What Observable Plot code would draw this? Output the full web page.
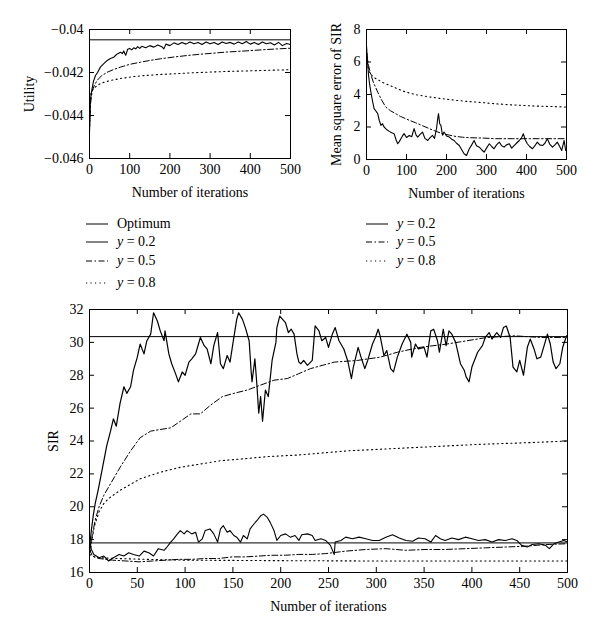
<!DOCTYPE html>
<html><head><meta charset="utf-8">
<script src="https://cdn.jsdelivr.net/npm/d3@7"></script>
<script src="https://cdn.jsdelivr.net/npm/@observablehq/plot@0.6"></script>
<style>
body{margin:0;background:#fff;}
#wrap{position:relative;width:600px;height:632px;background:#fff;}
.leg{position:absolute;display:flex;align-items:center;font-size:14px;height:18px;color:#000;white-space:nowrap;font-family:'Liberation Serif',serif;}
.leg svg{margin-right:9px;}
</style></head><body><div id="wrap"></div>
<script>
// ---------- tick labels ----------
const xTicks100 = [0, 100, 200, 300, 400, 500];
const xTicks50 = [0, 50, 100, 150, 200, 250, 300, 350, 400, 450, 500];
const utilTicks = [-0.046, -0.044, -0.042, -0.040];
const mseTicks = [0, 2, 4, 6, 8];
const sirTicks = [16, 18, 20, 22, 24, 26, 28, 30, 32];

// ---------- Utility panel ----------
const utilOptimum = -0.04048;
const utilIter02 = [0,2,4,6,10,15,20,27,35,44,52,60,68,77,82,85,90,95,100,105,110,115,120,125,130,140,150,160,170,180,185,190,200,210,220,230,240,250,260,270,280,290,300,310,320,330,340,350,360,370,380,390,400,410,420,430,440,450,460,470,480,490,500];
const util02 = [-0.0448,-0.0435,-0.0430,-0.0428,-0.0424,-0.04214,-0.0420,-0.04175,-0.0416,-0.04144,-0.04135,-0.04129,-0.04115,-0.04106,-0.04112,-0.041,-0.0412,-0.04092,-0.04088,-0.04095,-0.04085,-0.0409,-0.0408,-0.04088,-0.04078,-0.04085,-0.04075,-0.04082,-0.04072,-0.0408,-0.0409,-0.04068,-0.04075,-0.04062,-0.0407,-0.0406,-0.04068,-0.04058,-0.04066,-0.0406,-0.0407,-0.04058,-0.04066,-0.0406,-0.0407,-0.04058,-0.04065,-0.0406,-0.04068,-0.04058,-0.04066,-0.04056,-0.04068,-0.0406,-0.0407,-0.04058,-0.04066,-0.04062,-0.04072,-0.0406,-0.04075,-0.04065,-0.0407];
const utilIter05 = [0,2,4,8,12,19,30,44,60,77,100,127,150,177,210,243,275,309,340,376,410,442,470,500];
const util05 = [-0.0446,-0.0436,-0.04315,-0.0428,-0.0426,-0.04237,-0.04215,-0.04199,-0.04186,-0.04175,-0.04162,-0.04152,-0.04144,-0.04136,-0.04128,-0.04121,-0.04115,-0.0411,-0.04105,-0.04101,-0.04097,-0.04093,-0.0409,-0.04087];
const utilIter08 = [0,2,4,8,12,19,30,52,80,110,140,177,220,260,300,342,385,425,460,500];
const util08 = [-0.0447,-0.0436,-0.04292,-0.0428,-0.04272,-0.0426,-0.04249,-0.04237,-0.04227,-0.04219,-0.04214,-0.04209,-0.04205,-0.04201,-0.04198,-0.04195,-0.04193,-0.04191,-0.04189,-0.04187];

// ---------- MSE panel ----------
const mseIter02 = [0,2,5,8,11,15,19,23,28,32,36,40,44,50,57,63,69,74,78,82,86,90,94,100,107,113,119,124,128,134,140,146,153,159,165,170,175,178,180,183,186,190,194,200,207,213,219,225,232,238,244,250,257,263,269,275,282,288,294,300,307,313,319,325,332,338,344,350,357,363,369,375,382,387,392,397,402,408,415,421,427,433,440,446,452,458,465,471,477,483,488,494,498,500];
const mse02 = [7.0,6.2,5.2,4.6,4.15,3.6,3.13,3.0,2.82,2.4,2.1,2.2,2.0,1.85,1.73,1.65,1.59,1.2,0.97,1.1,1.28,1.45,1.59,1.35,1.48,1.4,1.9,1.5,1.38,1.55,1.69,1.3,1.17,1.35,1.48,1.3,1.9,2.5,2.82,2.2,2.1,1.5,1.69,1.45,1.38,1.25,1.17,1.0,0.86,0.6,0.35,0.25,0.66,0.9,1.17,0.85,0.76,0.6,0.45,0.7,0.97,0.8,0.66,0.9,1.07,0.85,0.76,0.9,0.97,0.7,0.86,1.0,1.17,1.3,1.59,1.2,0.97,0.8,0.66,0.85,1.07,0.9,0.86,1.0,1.28,0.95,0.76,0.9,1.07,0.8,0.55,1.17,0.55,0.6];
const mseIter05 = [0,5,11,18,28,38,48,60,73,85,98,110,123,140,157,173,190,207,223,240,257,290,323,365,407,449,500];
const mse05 = [6.6,5.8,5.2,4.7,4.15,3.65,3.23,3.0,2.82,2.65,2.51,2.38,2.26,2.08,1.9,1.74,1.59,1.5,1.42,1.37,1.34,1.32,1.28,1.28,1.28,1.28,1.28];
const mseIter08 = [0,3,7,14,23,40,57,78,98,125,157,190,223,255,290,323,357,390,423,460,500];
const mse08 = [6.8,5.8,5.4,5.15,4.98,4.75,4.57,4.35,4.15,3.98,3.85,3.74,3.64,3.57,3.5,3.43,3.37,3.33,3.29,3.26,3.23];

// ---------- SIR panel ----------
const sirOptimumHigh = 30.35;
const sirOptimumLow = 17.8;
const sirIterHi02 = [0,2,4,6,9,13,18,22,25,28,32,36,39,43,46,50,53,57,60,64,67,71,74,78,79,83,86,90,93,97,100,104,107,111,114,116,120,123,127,130,134,137,140,144,147,151,154,156,160,163,167,169,170,173,175,177,179,181,184,187,191,195,196,199,202,205,208,211,214,217,219,221,224,228,233,236,240,243,247,250,254,257,261,266,270,274,276,281,284,288,291,296,299,302,304,308,311,315,318,322,327,332,336,337,341,344,350,353,357,360,364,366,370,373,376,379,383,388,392,394,397,400,406,411,414,418,421,426,430,433,436,440,443,447,450,454,458,461,465,468,472,475,479,482,485,488,492,495,499,500];
const sirHi02 = [17.5,18.6,19.5,20.2,21.0,22.2,23.7,24.6,25.35,24.9,26.3,27.3,26.9,27.3,28.3,29.1,29.9,29.3,30.1,30.5,31.8,31.3,30.7,30.1,30.7,29.3,28.7,28.1,27.6,28.2,28.0,28.8,29.0,29.3,29.9,30.3,29.8,29.6,28.7,29.8,30.6,28.7,28.4,29.2,28.8,30.3,31.4,31.8,31.4,30.9,30.1,28.3,27.6,29.0,27.5,25.7,26.7,25.2,27.1,26.7,28.9,30.0,30.9,31.6,31.4,31.2,30.6,30.8,30.5,29.3,28.8,28.7,28.9,28.6,28.9,31.0,30.7,30.1,30.3,29.7,30.5,30.9,30.1,29.6,28.9,27.8,28.5,29.7,29.1,28.4,28.9,29.9,30.3,30.8,30.4,29.2,29.5,28.4,28.2,29.1,29.9,30.5,30.0,29.1,29.9,29.6,29.7,29.1,30.7,30.8,30.1,29.4,30.8,29.8,30.7,30.5,30.0,28.7,28.3,27.9,27.6,28.5,29.4,29.8,30.3,30.6,30.2,30.6,30.3,30.9,31.0,30.3,28.5,28.2,28.9,28.0,29.7,30.2,29.6,29.0,29.1,29.7,30.5,29.9,28.8,28.4,28.7,29.7,30.4,30.4];
const sirIterHi05 = [0,3,6,10,15,22,32,43,53,64,74,85,95,106,116,127,139,151,165,179,193,207,219,231,256,280,304,322,346,374,395,416,444,472,500];
const sirHi05 = [17.2,18.3,19.2,20.0,20.7,21.4,22.4,23.4,24.2,24.6,24.7,24.8,25.2,25.65,25.65,26.2,26.7,26.9,27.1,27.4,27.7,27.8,28.1,28.4,28.8,28.9,29.1,29.4,29.7,29.9,30.1,30.3,30.4,30.3,30.3];
const sirIterHi08 = [0,2,5,10,15,20,32,53,74,95,116,137,158,186,219,270,339,409,460,500];
const sirHi08 = [17.0,17.8,18.8,19.7,20.2,20.5,21.0,21.7,22.1,22.4,22.6,22.8,22.9,23.05,23.15,23.4,23.6,23.8,23.9,24.0];
const sirIterLo02 = [0,2,4.5,10,15,20,25,31,36,41,46,52,57,62,67,72,78,81,85,88,92,95,99,102,107,111,114,118,121,126,130,134,137,140,144,147,151,154,158,161,165,168,172,175,179,182,186,189,193,196,200,205,210,215,219,222,228,233,236,242,247,252,256,257,263,268,275,282,289,296,303,310,317,324,331,338,344,351,357,362,367,372,379,386,393,400,407,414,421,428,435,442,447,452,458,463,470,477,481,486,491,496,500];
const sirLo02 = [17.9,17.4,17.1,16.9,17.0,16.7,16.9,17.1,17.0,17.2,17.1,17.0,17.3,17.2,17.0,17.45,17.35,17.55,17.85,18.05,18.35,18.55,18.35,18.55,18.35,18.45,17.85,18.05,18.55,18.65,18.35,17.85,18.65,18.85,18.45,18.55,18.25,18.15,17.85,18.25,18.05,18.65,18.95,19.15,19.45,19.55,19.35,19.05,18.55,17.95,18.25,18.35,18.15,18.25,17.95,18.3,18.35,18.25,17.95,18.05,17.95,17.65,17.1,17.85,17.95,18.15,18.05,18.15,18.05,17.95,17.95,18.15,18.3,18.1,17.95,17.9,18.1,18.05,17.85,18.25,18.05,17.95,18.1,18.0,18.15,18.05,17.95,18.0,17.85,18.0,17.95,18.05,17.95,17.65,17.55,17.7,17.75,17.65,17.45,17.75,17.85,17.95,17.85];
const sirIterLo05 = [0,3,10,24,38,52,66,80,93,107,121,135,149,163,177,191,205,219,233,247,268,289,310,331,351,372,393,414,435,456,477,500];
const sirLo05 = [17.4,17.0,16.85,16.75,16.7,16.65,16.7,16.75,16.8,16.8,16.85,16.85,16.95,16.95,17.0,17.05,17.05,17.1,17.1,17.15,17.3,17.4,17.45,17.35,17.4,17.4,17.45,17.5,17.55,17.6,17.7,17.75];
const sirIterLo08 = [0,5,10,30,60,100,200,300,500];
const sirLo08 = [17.1,16.95,16.9,16.85,16.8,16.75,16.72,16.7,16.7];

// ---------- helpers ----------
const DASHDOT = "6,2.5,1.5,2.5";
const DOTTED = "1.2,3.3";
const FONT = "Liberation Serif";
const zip = (xs, ys) => xs.map((x, i) => ({x, y: ys[i]}));
const baseStyle = {fontFamily: FONT, fontSize: "14px", color: "#000", background: "transparent", overflow: "visible"};

function frameTicks(xt, yt, ih, iw, len = 5) {
  return [
    Plot.tickX(xt, {x: d => d, insetTop: ih - len, stroke: "#000", strokeWidth: 1}),
    Plot.tickX(xt, {x: d => d, insetBottom: ih - len, stroke: "#000", strokeWidth: 1}),
    Plot.tickY(yt, {y: d => d, insetRight: iw - len, stroke: "#000", strokeWidth: 1}),
    Plot.tickY(yt, {y: d => d, insetLeft: iw - len, stroke: "#000", strokeWidth: 1})
  ];
}
function seriesMarks(list) {
  return list.map(([xs, ys, dash, w]) =>
    Plot.line(zip(xs, ys), {x: "x", y: "y", stroke: "#000", strokeWidth: w, strokeDasharray: dash}));
}
const wrap = document.getElementById("wrap");
function place(svg, left, top) {
  svg.style.left = left + "px";
  svg.style.top = top + "px";
  svg.style.position = "absolute";
  wrap.appendChild(svg);
}

// Top-left: Utility
{
  const W = 300, H = 210, mL = 89, mR = 10, mT = 29, mB = 52;
  place(Plot.plot({
    width: W, height: H, marginLeft: mL, marginRight: mR, marginTop: mT, marginBottom: mB,
    style: baseStyle, x: {domain: [0, 500]}, y: {domain: [-0.046, -0.040]},
    marks: [
      Plot.ruleY([utilOptimum], {stroke: "#000"}),
      ...seriesMarks([[utilIter08, util08, DOTTED, 1.1],[utilIter05, util05, DASHDOT, 1],[utilIter02, util02, null, 1.1]]),
      Plot.frame({stroke: "#000"}),
      ...frameTicks(xTicks100, utilTicks, H - mT - mB, W - mL - mR),
      Plot.axisX({ticks: xTicks100, tickSize: 0, tickPadding: 6, fontFamily: FONT, label: "Number of iterations", labelAnchor: "center", labelArrow: "none", labelOffset: 38}),
      Plot.axisY({ticks: utilTicks, tickSize: 0, tickPadding: 6, fontFamily: FONT, tickFormat: d3.format("~g"), label: "Utility", labelAnchor: "center", labelArrow: "none", labelOffset: 65})
    ]
  }), 0, 0);
}

// Top-right: MSE
{
  const W = 300, H = 210, mL = 66, mR = 34, mT = 29, mB = 51;
  place(Plot.plot({
    width: W, height: H, marginLeft: mL, marginRight: mR, marginTop: mT, marginBottom: mB,
    style: baseStyle, x: {domain: [0, 500]}, y: {domain: [0, 8]},
    marks: [
      ...seriesMarks([[mseIter08, mse08, DOTTED, 1.1],[mseIter05, mse05, DASHDOT, 1],[mseIter02, mse02, null, 1.1]]),
      Plot.frame({stroke: "#000"}),
      ...frameTicks(xTicks100, mseTicks, H - mT - mB, W - mL - mR),
      Plot.axisX({ticks: xTicks100, tickSize: 0, tickPadding: 6, fontFamily: FONT, label: "Number of iterations", labelAnchor: "center", labelArrow: "none", labelOffset: 38}),
      Plot.axisY({ticks: mseTicks, tickSize: 0, tickPadding: 6, fontFamily: FONT, tickFormat: d3.format("~g"), label: "Mean square error of SIR", labelAnchor: "center", labelArrow: "none", labelOffset: 35})
    ]
  }), 300, 0);
}

// Bottom: SIR
{
  const W = 600, H = 342, mL = 89, mR = 33, mT = 19, mB = 60;
  place(Plot.plot({
    width: W, height: H, marginLeft: mL, marginRight: mR, marginTop: mT, marginBottom: mB,
    style: baseStyle, x: {domain: [0, 500]}, y: {domain: [16, 32]},
    marks: [
      Plot.ruleY([sirOptimumHigh, sirOptimumLow], {stroke: "#000"}),
      ...seriesMarks([[sirIterHi08, sirHi08, DOTTED, 1.1],[sirIterLo08, sirLo08, DOTTED, 1.1],[sirIterHi05, sirHi05, DASHDOT, 1],[sirIterLo05, sirLo05, DASHDOT, 1],[sirIterHi02, sirHi02, null, 1.2],[sirIterLo02, sirLo02, null, 1.1]]),
      Plot.frame({stroke: "#000"}),
      ...frameTicks(xTicks50, sirTicks, H - mT - mB, W - mL - mR),
      Plot.axisX({ticks: xTicks50, tickSize: 0, tickPadding: 6, fontFamily: FONT, label: "Number of iterations", labelAnchor: "center", labelArrow: "none", labelOffset: 38}),
      Plot.axisY({ticks: sirTicks, tickSize: 0, tickPadding: 6, fontFamily: FONT, tickFormat: d3.format("~g"), label: "SIR", labelAnchor: "center", labelArrow: "none", labelOffset: 41})
    ]
  }), 0, 290);
}

// ---------- legends ----------
const legendLeft = [
  {text: "Optimum", dash: null, color: "#000", w: 1},
  {text: "y = 0.2", dash: null, color: "#777", w: 1.8},
  {text: "y = 0.5", dash: DASHDOT, color: "#000", w: 1},
  {text: "y = 0.8", dash: DOTTED, color: "#000", w: 1.1}
];
const legendRight = [
  {text: "y = 0.2", dash: null, color: "#000", w: 1},
  {text: "y = 0.5", dash: DASHDOT, color: "#000", w: 1},
  {text: "y = 0.8", dash: DOTTED, color: "#000", w: 1.1}
];
const leftRowsY = [224, 242, 261, 283];
const rightRowsY = [224, 242, 261];
function legend(items, rowsY, left) {
  items.forEach((it, i) => {
    const row = document.createElement("div");
    row.className = "leg";
    row.style.left = left + "px";
    row.style.top = (rowsY[i] - 9) + "px";
    const label = it.text.startsWith("y") ? `<i>y</i>&nbsp;=&nbsp;${it.text.split("= ")[1]}` : it.text;
    row.innerHTML = `<svg width="22" height="10"><line x1="0" x2="22" y1="5" y2="5" stroke="${it.color}" stroke-width="${it.w}" ${it.dash ? `stroke-dasharray="${it.dash}"` : ""}/></svg><span>${label}</span>`;
    wrap.appendChild(row);
  });
}
legend(legendLeft, leftRowsY, 86);
legend(legendRight, rightRowsY, 366);
</script>
</body></html>
